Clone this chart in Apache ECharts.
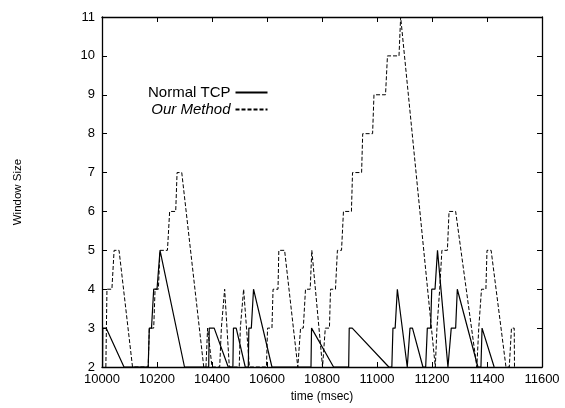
<!DOCTYPE html>
<html><head><meta charset="utf-8">
<script src="https://cdn.jsdelivr.net/npm/echarts@6/dist/echarts.min.js"></script>
<style>html,body{margin:0;padding:0;background:#fff}#c{width:565px;height:408px}</style>
</head><body><div id="c"></div>
<script>
// x axis (time, msec) and y axis (window size) ranges
const xMin = 10000, xMax = 11600, xStep = 200;
const yMin = 2, yMax = 11, yStep = 1;

// Normal TCP (solid)
const tcpTime = [10002,10003,10015,10080,
  10168,10172,10180,10188,10200,10211,10300,
  10388,10390,10408,10459,
  10476,10478,10488,10521,
  10532,10534,10543,10551,10618,
  10760,10762,10768,10842,
  10897,10899,10910,11043,
  11054,11058,11066,11074,11110,
  11117,11120,11129,11167,
  11177,11183,11195,11199,11211,11220,11258,
  11262,11270,11286,11292,11367,
  11378,11382,11388,11426];
const tcpWin = [2,3,3,2,
  2,3,3,4,4,5,2,
  2,3,3,2,
  2,3,3,2,
  2,3,3,4,2,
  2,3,3,2,
  2,3,3,2,
  2,3,3,4,2,
  2,3,3,2,
  2,3,3,4,4,5,2,
  2,3,3,4,2,
  2,3,3,2];

// Our Method (dashed)
const ourTime = [10014,10016,10018,10036,10044,10062,10111,
  10168,10172,10188,10193,10205,10211,10238,10246,10268,10273,10290,10370,
  10378,10384,10390,10400,
  10428,10434,10440,10446,10451,10463,
  10499,10503,10508,10515,10536,
  10598,10602,10618,10622,10640,10643,10664,10712,
  10718,10722,10732,10740,10757,10763,10767,10802,
  10805,10812,10827,10831,10849,10856,10871,10878,10907,10911,10944,10948,10984,10989,11031,11038,11080,11086,11212,
  11214,11218,11224,11228,11232,11236,11256,11262,11286,11363,
  11366,11370,11376,11380,11396,11400,11415,11469,
  11481,11489,11499,11500];
const ourWin = [2,3,4,4,5,5,2,
  2,3,3,4,4,5,5,6,6,7,7,2,
  2,3,3,2,
  2,3,3,4,4,2,
  2,3,3,4,2,
  2,3,3,4,4,5,5,2,
  2,3,3,4,4,5,5,2,
  2,3,3,4,4,5,5,6,6,7,7,8,8,9,9,10,10,11,2,
  2,3,3,4,4,5,5,6,6,2,
  2,3,3,4,4,5,5,2,
  2,3,3,2];

const seriesNames = ['Normal TCP', 'Our Method'];
const xTitle = 'time (msec)';
const yTitle = 'Window Size';

const zip = (a, b) => a.map((v, i) => [v, b[i]]);
const font = 'Liberation Sans, Arial, Helvetica, sans-serif';
const axisLine = {show: true, lineStyle: {color: '#000', width: 1.3}};
const tickIn = {show: true, inside: true, length: 5, lineStyle: {color: '#000', width: 1}};

const chart = echarts.init(document.getElementById('c'), null, {renderer: 'canvas'});
chart.setOption({
  animation: false,
  backgroundColor: '#fff',
  grid: {left: 102, right: 23, top: 17, bottom: 41, containLabel: false},
  legend: {
    orient: 'vertical', align: 'right', left: 148, top: 85, padding: 0,
    itemWidth: 32, itemHeight: 12, itemGap: 2,
    itemStyle: {opacity: 0},
    textStyle: {fontSize: 15, fontFamily: font, color: '#000'},
    data: [
      {name: seriesNames[0]},
      {name: seriesNames[1], textStyle: {fontStyle: 'italic'}}
    ]
  },
  xAxis: [{
    type: 'value', min: xMin, max: xMax, interval: xStep, position: 'bottom',
    axisLine: axisLine, axisTick: tickIn, splitLine: {show: false},
    axisLabel: {color: '#000', fontSize: 13, fontFamily: font, margin: 6, formatter: v => String(v)},
    name: xTitle, nameLocation: 'middle', nameGap: 20,
    nameTextStyle: {color: '#000', fontSize: 12, fontFamily: font}
  }, {
    type: 'value', min: xMin, max: xMax, interval: xStep, position: 'top',
    axisLine: axisLine, axisTick: tickIn, splitLine: {show: false},
    axisLabel: {show: false}
  }],
  yAxis: [{
    type: 'value', min: yMin, max: yMax, interval: yStep, position: 'left',
    axisLine: axisLine, axisTick: tickIn, splitLine: {show: false},
    axisLabel: {color: '#000', fontSize: 13, fontFamily: font, margin: 7},
    name: yTitle, nameLocation: 'middle', nameGap: 78, nameRotate: 90,
    nameTextStyle: {color: '#000', fontSize: 11.5, fontFamily: font}
  }, {
    type: 'value', min: yMin, max: yMax, interval: yStep, position: 'right',
    axisLine: axisLine, axisTick: tickIn, splitLine: {show: false},
    axisLabel: {show: false}
  }],
  series: [{
    name: seriesNames[0], type: 'line', data: zip(tcpTime, tcpWin),
    showSymbol: false, symbol: 'none', clip: true,
    lineStyle: {color: '#000', width: 1.2, type: 'solid'},
    itemStyle: {color: '#000'}
  }, {
    name: seriesNames[1], type: 'line', data: zip(ourTime, ourWin),
    showSymbol: false, symbol: 'none', clip: true,
    lineStyle: {color: '#000', width: 1, type: [4, 2]},
    itemStyle: {color: '#000'}
  }]
});
</script></body></html>
